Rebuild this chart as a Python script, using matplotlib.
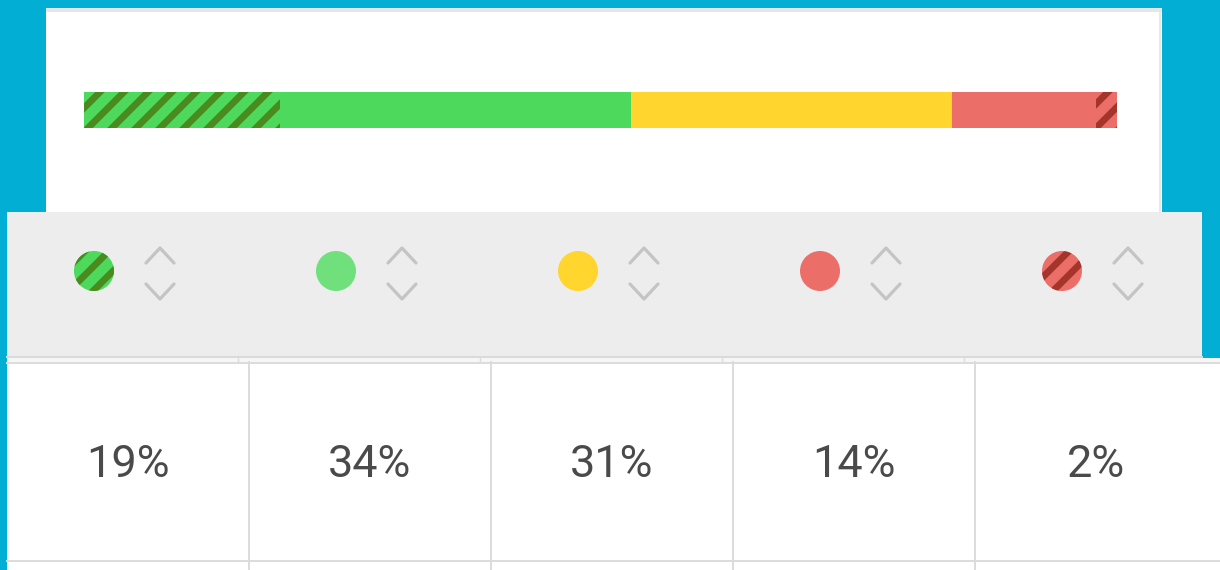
import matplotlib.pyplot as plt
from matplotlib.patches import Rectangle

# segment data
segments = ["hatched_good", "good", "medium", "bad", "hatched_bad"]
values = [19, 34, 31, 14, 2]
bar_colors = ["#4cd95c", "#4cd95c", "#ffd52e", "#eb6e68", "#eb6e68"]
stripe_colors = ["#4a8a1e", "#4cd95c", "#ffd52e", "#eb6e68", "#a3352d"]
dot_colors = ["#4cd95c", "#6fe07c", "#ffd52e", "#eb6e68", "#eb6e68"]
hatches = ["//", "", "", "", "//"]
labels = [f"{v}%" for v in values]

W, H, DPI = 1220, 570, 144
plt.rcParams["hatch.linewidth"] = 3.4
plt.rcParams["font.family"] = ["Roboto", "DejaVu Sans"]

fig = plt.figure(figsize=(W / DPI, H / DPI), dpi=DPI)
fig.patch.set_facecolor("#02aed3")

# background panels in pixel coordinates
ax = fig.add_axes([0, 0, 1, 1])
ax.set_xlim(0, W)
ax.set_ylim(H, 0)
ax.axis("off")

ax.add_patch(Rectangle((46, 8), 1116, 206, facecolor="white", edgecolor="none"))
ax.add_patch(Rectangle((46, 8), 1116, 4, facecolor="#e6e6e6", edgecolor="none"))
ax.plot([1160, 1160], [12, 212], color="#e8e8e8", lw=1)
ax.add_patch(Rectangle((7, 212), 1195, 146, facecolor="#ededed", edgecolor="none"))
ax.plot([7, 1202], [356.5, 356.5], color="#dadada", lw=1)
ax.add_patch(Rectangle((7, 358), 1213, 4, facecolor="#f6f6f6", edgecolor="none"))
ax.add_patch(Rectangle((7, 362), 1213, 208, facecolor="white", edgecolor="none"))
ax.plot([7, 1220], [362.5, 362.5], color="#dcdcdc", lw=1)
ax.plot([7, 1220], [560.5, 560.5], color="#dcdcdc", lw=1)

col_w = 242
x0 = 7
for i in range(1, len(values)):
    xc = x0 + col_w * i
    ax.plot([xc, xc], [362, 570], color="#dcdcdc", lw=1)
    ax.plot([xc - 11, xc - 11], [356, 362], color="#dcdcdc", lw=0.7)

# legend dots and sort chevrons
dot_x = [x0 + col_w * i + 87 for i in range(len(values))]
for i in range(len(values)):
    ax.scatter(dot_x[i], 271, s=400, color=dot_colors[i],
               edgecolor=stripe_colors[i] if hatches[i] else "none",
               linewidths=0, hatch=hatches[i] or None, zorder=3)
    cx = x0 + col_w * i + 153
    ax.plot([cx - 14, cx, cx + 14], [263, 248, 263], color="#c4c4c4",
            lw=1.6, solid_capstyle="round", solid_joinstyle="round")
    ax.plot([cx - 14, cx, cx + 14], [284, 299, 284], color="#c4c4c4",
            lw=1.6, solid_capstyle="round", solid_joinstyle="round")
    ax.text(x0 + col_w * (i + 0.5), 477, labels[i], ha="center",
            va="baseline", fontsize=22.5, color="#4a4a4a")

# stacked bar
bx = fig.add_axes([84 / W, (H - 128) / H, 1033 / W, 36 / H])
bx.set_xlim(0, sum(values))
bx.set_ylim(-0.5, 0.5)
bx.axis("off")
left = 0
for v, c, sc, h in zip(values, bar_colors, stripe_colors, hatches):
    bx.barh(0, v, left=left, height=1, color=c,
            edgecolor=sc if h else "none", linewidth=0, hatch=h or None)
    left += v

fig.savefig("out.png", dpi=DPI, facecolor=fig.get_facecolor())
